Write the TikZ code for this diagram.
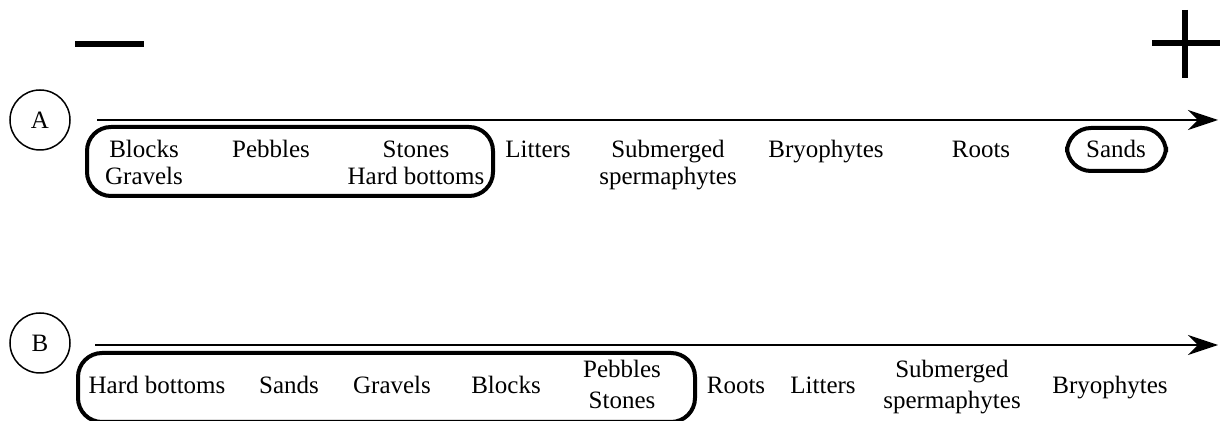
\documentclass[tikz,border=0pt]{standalone}
\usepackage{fontspec}
\setmainfont{Liberation Serif}
\usetikzlibrary{arrows.meta}

\tikzset{
  lbl/.style={anchor=base, align=center, inner sep=0pt, font=\fontsize{12.5}{13.5}\selectfont},
  lblwide/.style={lbl, font=\fontsize{12.5}{15.5}\selectfont},
  tag/.style={draw, circle, line width=0.75pt, minimum size=30pt, inner sep=0pt, font=\fontsize{12.5}{14}\selectfont},
  axis/.style={line width=1pt, -{Stealth[length=15pt, width=10pt]}},
  groupbox/.style={line width=2pt, rounded corners=12pt},
  sign/.style={line width=3pt}
}

\begin{document}
\begin{tikzpicture}[x=0.5pt, y=-0.5pt]
                \useasboundingbox (0,0) rectangle (1220,421);
                \clip (0,0) rectangle (1220,421);

                % signs
                \draw[sign] (75,44) -- (144,44);
                \draw[sign] (1185,10) -- (1185,78);
                \draw[sign] (1152,43) -- (1220,43);

                % ranking A
                \node[tag] (tagA) at (40,120) {A};
                \coordinate (startA) at (97,120);
                \coordinate (endA) at (1218,120);
                \draw[axis] (startA) -- (endA);

                \node[lbl] (blocksA) at (144,185) {Blocks\\Gravels};
                \node[lbl] (pebblesA) at (271,158) {Pebbles};
                \node[lbl] (stonesA) at (416,185) {Stones\\Hard bottoms};
                \node[lbl] (littersA) at (538,158) {Litters};
                \node[lbl] (spermA) at (668,185) {Submerged\\spermaphytes};
                \node[lbl] (bryoA) at (826,158) {Bryophytes};
                \node[lbl] (rootsA) at (981,158) {Roots};
                \node[lbl] (sandsA) at (1116,158) {Sands};

                \draw[groupbox] (87,127) rectangle (493,196);
                \draw[groupbox] (1067,128) rectangle (1166,171);

                % ranking B
                \node[tag] (tagB) at (40,343) {B};
                \coordinate (startB) at (95,345);
                \coordinate (endB) at (1218,345);
                \draw[axis] (startB) -- (endB);

                \node[lbl] (hardB) at (157,394) {Hard bottoms};
                \node[lbl] (sandsB) at (289,394) {Sands};
                \node[lbl] (gravelsB) at (392,394) {Gravels};
                \node[lbl] (blocksB) at (506,394) {Blocks};
                \node[lblwide] (pebblesB) at (622,409) {Pebbles\\Stones};
                \node[lbl] (rootsB) at (736,394) {Roots};
                \node[lbl] (littersB) at (823,394) {Litters};
                \node[lblwide] (spermB) at (952,409) {Submerged\\spermaphytes};
                \node[lbl] (bryoB) at (1110,394) {Bryophytes};

                \draw[groupbox] (78,353) rectangle (695,422);
            \end{tikzpicture}
\end{document}
